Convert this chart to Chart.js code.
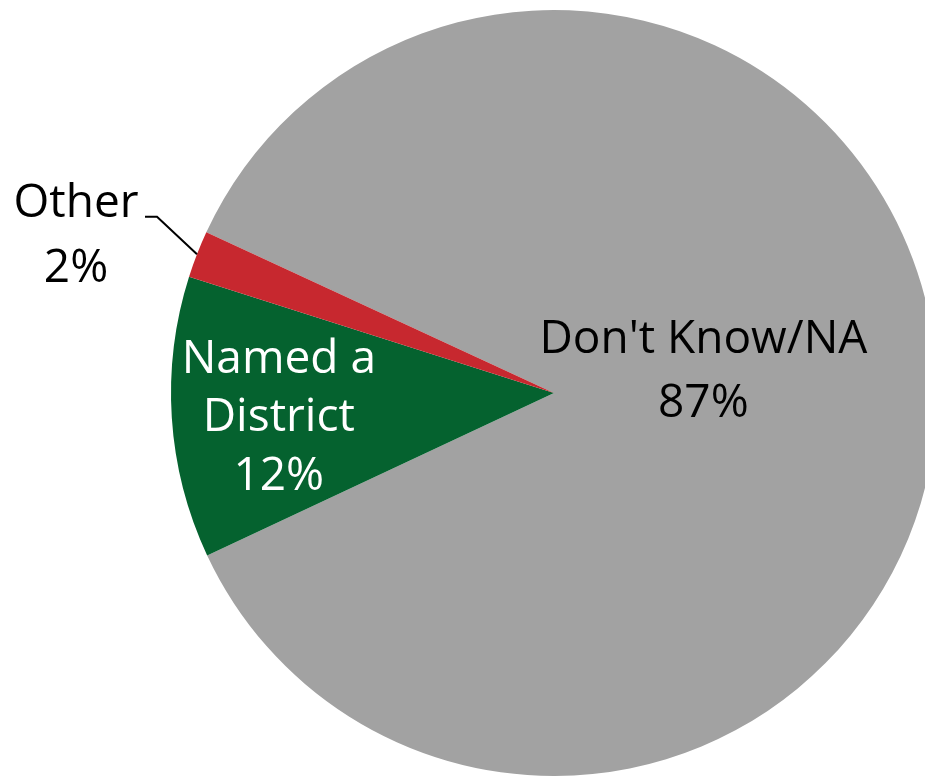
<!DOCTYPE html>
<html>
<head>
<meta charset="utf-8">
<script src="https://cdn.jsdelivr.net/npm/chart.js@4.4.1/dist/chart.umd.min.js"></script>
<style>
  html, body { margin: 0; padding: 0; width: 925px; height: 776px; overflow: hidden; background: #fff; }
  #pie { position: absolute; left: 0; top: 0; }
</style>
</head>
<body>
<canvas id="pie" width="1108" height="786"></canvas>
<script>
// data
var categories = ["Don't Know/NA", "Named a District", "Other"];
var shares = [87, 12, 2];
var labelLines = [["Don't Know/NA"], ["Named a", "District"], ["Other"]];
var sliceColors = ['#a2a2a2', '#05622f', '#c7282f'];

var FONT = '46px "Open Sans", sans-serif';
var CAP = 15.5; // half cap height, used for placing baselines

// draws the slice labels the way the excel chart had them
var sliceLabels = {
    id: 'sliceLabels',
    afterDatasetsDraw: function (chart) {
        var ctx = chart.ctx;
        var arcs = chart.getDatasetMeta(0).data;
        ctx.save();
        ctx.font = FONT;
        ctx.textAlign = 'center';
        ctx.textBaseline = 'alphabetic';

        for (var i = 0; i < arcs.length; i++) {
            var p = arcs[i].getProps(['x', 'y', 'startAngle', 'endAngle', 'outerRadius'], true);
            var mid = (p.startAngle + p.endAngle) / 2;
            var lines = labelLines[i].concat([shares[i] + '%']);
            var ax, ay, lh;

            if (i === 0) {
                ax = p.x + Math.cos(mid) * p.outerRadius * 0.39;
                ay = p.y + Math.sin(mid) * p.outerRadius * 0.39 - 23;
                lh = 64;
                ctx.fillStyle = '#000';
            } else if (i === 1) {
                ax = p.x + Math.cos(mid) * p.outerRadius * 0.72;
                ay = p.y + Math.sin(mid) * p.outerRadius * 0.72 + 5;
                lh = 58.5;
                ctx.fillStyle = '#fff';
            } else {
                // outside label with leader line
                var ex = p.x + Math.cos(mid) * p.outerRadius;
                var ey = p.y + Math.sin(mid) * p.outerRadius;
                var kx = ex - 40, ky = ey - 37.5;
                ctx.strokeStyle = '#000';
                ctx.lineWidth = 2;
                ctx.beginPath();
                ctx.moveTo(ex, ey);
                ctx.lineTo(kx, ky);
                ctx.lineTo(kx - 12, ky);
                ctx.stroke();
                ax = kx - 81;
                ay = ky + 32.5 - CAP;
                lh = 65;
                ctx.fillStyle = '#000';
            }

            for (var j = 0; j < lines.length; j++) {
                var by = ay + (j - (lines.length - 1) / 2) * lh + CAP;
                ctx.fillText(lines[j], ax, by);
            }
        }
        ctx.restore();
    }
};

var myPie = new Chart(document.getElementById('pie'), {
    type: 'pie',
    data: {
        labels: categories,
        datasets: [{
            data: shares,
            backgroundColor: sliceColors,
            borderWidth: 0
        }]
    },
    options: {
        responsive: false,
        animation: false,
        rotation: 294.8,
        layout: { padding: 10 },
        plugins: {
            legend: { display: false },
            tooltip: { enabled: false }
        }
    },
    plugins: [sliceLabels]
});
</script>
</body>
</html>
